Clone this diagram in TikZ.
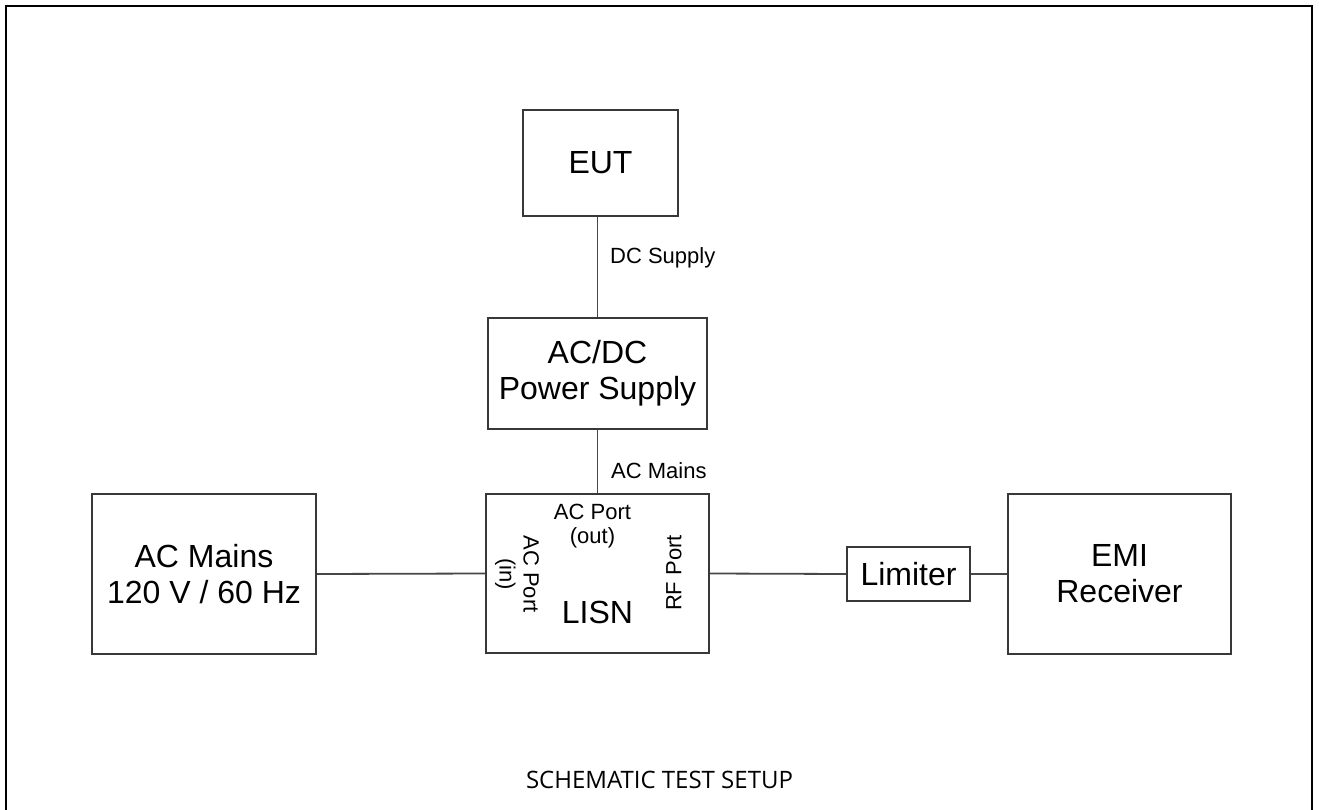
\documentclass[tikz,border=0pt]{standalone}
\usepackage{fontspec}
\setmainfont{Liberation Sans}
\newfontfamily\capfont{Open Sans}
\newcommand{\bigtxt}{\fontsize{32}{36}\selectfont}
\newcommand{\smalltxt}{\fontsize{22}{24}\selectfont}
\tikzset{
  blk/.style={draw=black!78, line width=2pt, inner sep=0pt, align=center, font=\bigtxt},
  wire/.style={draw=black!72, line width=1.8pt},
  lbl/.style={inner sep=0pt, font=\smalltxt, align=center},
  frameline/.style={draw=black, line width=2.6pt}
}
\begin{document}
\begin{tikzpicture}[x=1pt,y=-1pt]
\useasboundingbox (0,0) rectangle (1319,810);
\fill[white] (0,0) rectangle (1319,810);
% outer frame
\coordinate (fbl) at (6,812);
\coordinate (ftl) at (6,6);
\coordinate (ftr) at (1312,6);
\coordinate (fbr) at (1312,812);
\draw[frameline] (fbl) -- (ftl) -- (ftr) -- (fbr);
% blocks
\node[blk, minimum width=155pt, minimum height=106pt] (eut) at (600.5,163) {EUT};
\node[blk, minimum width=219pt, minimum height=111pt] (psu) at (597.5,373.5) {AC/DC\\Power Supply};
\node[blk, minimum width=223pt, minimum height=159pt] (lisn) at (597.5,573.5) {};
\node[blk, minimum width=224pt, minimum height=160pt] (mains) at (204,574) {AC Mains\\120 V / 60 Hz};
\node[blk, minimum width=123pt, minimum height=54pt] (lim) at (908.5,574) {Limiter};
\node[blk, minimum width=223pt, minimum height=160pt] (emi) at (1119.5,574) {EMI\\Receiver};
% LISN inner labels
\node[lbl, anchor=base] (acout) at (592.5,543) {AC Port\\(out)};
\node[inner sep=0pt, font=\bigtxt, anchor=base] (lisnlbl) at (597.5,623) {LISN};
\node[lbl, rotate=-90] (acin) at (517,574) {AC Port\\(in)};
\node[lbl, rotate=90] (rfport) at (674,573) {RF Port};
% connectors
\draw[wire] (psu.north |- eut.south) -- (psu.north);
\draw[wire] (psu.south) -- (lisn.north);
\draw[wire] (mains.east) -- (lisn.west);
\draw[wire] (lisn.east) -- (lim.west);
\draw[wire] (lim.east) -- (emi.west);
% connector labels
\node[lbl, anchor=base west] (dclbl) at (610,264) {DC Supply};
\node[lbl, anchor=base west] (aclbl) at (611,478) {AC Mains};
% caption
\node[inner sep=0pt, anchor=base, font=\capfont\fontsize{24}{28}\selectfont] (cap) at (659.5,788) {SCHEMATIC TEST SETUP};
\end{tikzpicture}
\end{document}
